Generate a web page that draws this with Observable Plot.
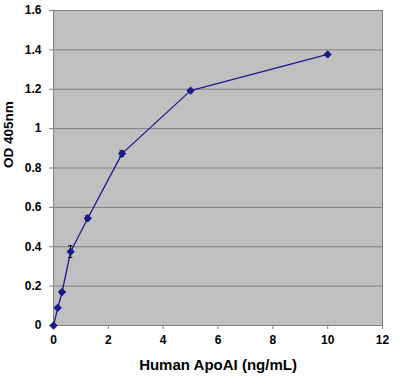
<!DOCTYPE html>
<html>
<head>
<meta charset="utf-8">
<script src="https://cdn.jsdelivr.net/npm/d3@7"></script>
<script src="https://cdn.jsdelivr.net/npm/@observablehq/plot@0.6"></script>
<style>
  html, body { margin: 0; padding: 0; background: #fff; }
  #chart svg { display: block; }
  #chart svg text { font-weight: bold; }
</style>
</head>
<body>
<div id="chart"></div>
<script>
const concentrations = [0, 0.156, 0.3125, 0.625, 1.25, 2.5, 5, 10];
const odValues = [0, 0.09, 0.17, 0.375, 0.545, 0.873, 1.193, 1.377];
const odErrors = [0, 0.006, 0.008, 0.03, 0.012, 0.015, 0.005, 0.005];
const xTicks = [0, 2, 4, 6, 8, 10, 12];
const yTicks = [0, 0.2, 0.4, 0.6, 0.8, 1, 1.2, 1.4, 1.6];
const xTitle = "Human ApoAI (ng/mL)";
const yTitle = "OD 405nm";

const data = concentrations.map((c, i) => ({x: c, y: odValues[i], e: odErrors[i]}));
const navy = "#1a1a8c";
const gridGray = "#808080";
const withErr = data.filter(d => d.e > 0);

const chart = Plot.plot({
  width: 400,
  height: 385,
  marginLeft: 53,
  marginRight: 18,
  marginTop: 10,
  marginBottom: 60,
  style: {fontFamily: "'Liberation Sans', Arial, sans-serif", fontSize: "12px", color: "#000"},
  x: {domain: [0, 12]},
  y: {domain: [0, 1.6]},
  marks: [
    Plot.frame({fill: "#c0c0c0", stroke: gridGray}),
    Plot.gridY(yTicks, {stroke: gridGray, strokeOpacity: 1}),
    Plot.axisY(yTicks, {tickFormat: d => String(+d.toFixed(1)), tickSize: 4, tickPadding: 8, label: null, stroke: gridGray, fill: "#000", fontSize: 12}),
    Plot.axisX(xTicks, {tickFormat: d => String(d), tickSize: 4, tickPadding: 6, label: null, stroke: gridGray, fill: "#000", fontSize: 12}),
    Plot.ruleX([0], {stroke: gridGray}),
    Plot.ruleY([0], {stroke: gridGray}),
    Plot.line(data, {x: "x", y: "y", stroke: navy, strokeWidth: 1.3}),
    Plot.ruleX(withErr, {x: "x", y1: d => d.y - d.e, y2: d => d.y + d.e, stroke: "#000", strokeWidth: 1}),
    Plot.ruleY(withErr, {y: d => d.y - d.e, x1: d => d.x - 0.08, x2: d => d.x + 0.08, stroke: "#000", strokeWidth: 1}),
    Plot.ruleY(withErr, {y: d => d.y + d.e, x1: d => d.x - 0.08, x2: d => d.x + 0.08, stroke: "#000", strokeWidth: 1}),
    Plot.dot(data, {x: "x", y: "y", symbol: "diamond2", r: 2.8, fill: navy, stroke: navy}),
    Plot.text([yTitle], {frameAnchor: "left", dx: -45, rotate: -90, fontSize: 13.5, fill: "#000"}),
    Plot.text([xTitle], {frameAnchor: "bottom", dy: 44, fontSize: 15, fill: "#000"})
  ]
});
document.getElementById("chart").appendChild(chart);
</script>
</body>
</html>
